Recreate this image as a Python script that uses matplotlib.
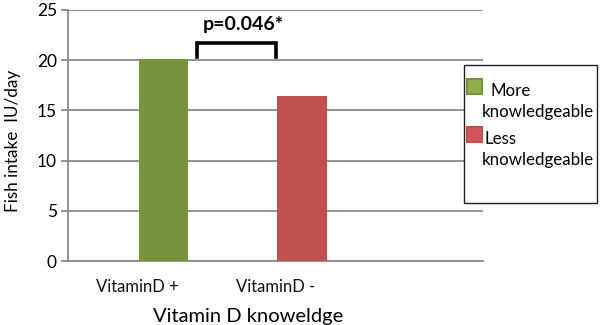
import numpy as np
import matplotlib
matplotlib.use("Agg")
import matplotlib.pyplot as plt
from matplotlib.patches import Rectangle

plt.rcParams['font.family'] = ['Lato', 'DejaVu Sans']

# data
categories = ['VitaminD +', 'VitaminD -']
fish_intake = [20.15, 16.4]
series_names = ['More\nknowledgeable', 'Less\nknowledgeable']
bar_colors = ['#77933C', '#C0504D']
legend_fill = ['#8FAE4B', '#D2565A']
y_ticks = [0, 5, 10, 15, 20, 25]
p_text = 'p=0.046*'

fig = plt.figure(figsize=(6.02, 3.25), dpi=100)
ax = fig.add_axes([68/602, 1 - 261/325, (483 - 68)/602, (261 - 10)/325])

x = np.arange(len(categories))
offset = 0.19
ax.bar(x + offset, fish_intake, width=0.36, color=bar_colors, zorder=3)

ax.set_xlim(-0.5, 2.5)
ax.set_ylim(0, 25)
ax.set_yticks(y_ticks)
ax.set_xticks(x)
ax.set_xticklabels(categories, fontsize=12, color='#111111')
ax.tick_params(axis='x', length=0, pad=13)
ax.tick_params(axis='y', length=5, width=1.3, color='#8a8a8a', labelsize=12.5, pad=3)
ax.yaxis.grid(True, color='#8a8a8a', linewidth=1.3, zorder=0)
for s in ['top', 'right']:
    ax.spines[s].set_visible(False)
for s in ['left', 'bottom']:
    ax.spines[s].set_color('#8a8a8a')
    ax.spines[s].set_linewidth(1.3)

ax.set_ylabel('Fish intake  IU/day', fontsize=12.3)
ax.yaxis.set_label_coords(-0.113, 0.48)
ax.set_xlabel('Vitamin D knoweldge', fontsize=14.5, labelpad=9)
ax.xaxis.label.set_x(0.433)

# significance bracket
bx0, bx1 = 0.433, 1.004
ax.plot([bx0, bx0, bx1, bx1], [20.3, 21.7, 21.7, 20.3], color='black', lw=2.6,
        solid_joinstyle='miter', zorder=4, clip_on=False)
ax.text(0.765, 23.6, p_text, ha='center', va='center', fontsize=14, fontweight='bold')

# legend box, drawn by hand like the excel one
fig.patches.append(Rectangle((464/602, 1 - 203/325), 133/602, 138/325,
                             transform=fig.transFigure, fill=True, facecolor='white',
                             edgecolor='#222222', lw=1.0, zorder=5))
sq_y = [79, 127]
first_x = [490, 484]
for i, name in enumerate(series_names):
    top, rest = name.split('\n')
    y0 = sq_y[i]
    fig.patches.append(Rectangle((467.5/602, 1 - (y0 + 15)/325), 15/602, 15/325,
                                 transform=fig.transFigure, facecolor=legend_fill[i],
                                 edgecolor=bar_colors[i], lw=1.5, zorder=6))
    fig.text(first_x[i]/602, 1 - (y0 + 17)/325, top, ha='left', va='baseline', fontsize=12.2, zorder=7)
    fig.text(482/602, 1 - (y0 + 38)/325, rest, ha='left', va='baseline', fontsize=12.2, zorder=7)

fig.savefig('out.png', dpi=100)
